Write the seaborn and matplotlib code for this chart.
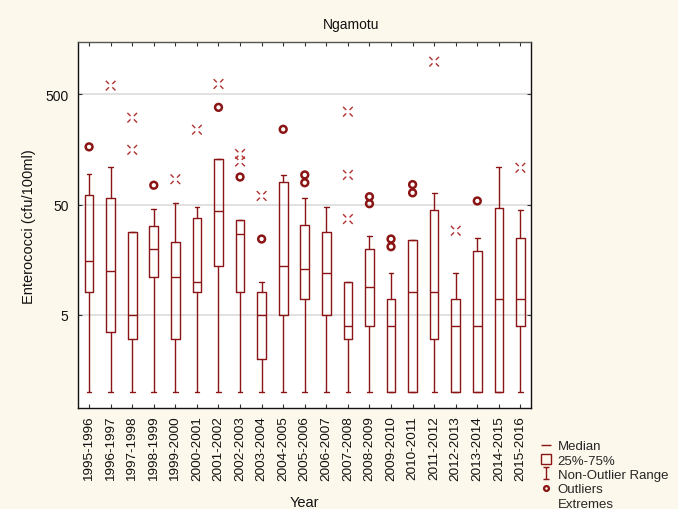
import numpy as np
import pandas as pd
import matplotlib
matplotlib.use("Agg")
import matplotlib.pyplot as plt
from matplotlib.path import Path
from matplotlib.lines import Line2D
from matplotlib.ticker import NullLocator, FixedLocator, FixedFormatter
import seaborn as sns

# ---------------- data ----------------
years = ["1995-1996", "1996-1997", "1997-1998", "1998-1999", "1999-2000",
         "2000-2001", "2001-2002", "2002-2003", "2003-2004", "2004-2005",
         "2005-2006", "2006-2007", "2007-2008", "2008-2009", "2009-2010",
         "2010-2011", "2011-2012", "2012-2013", "2013-2014", "2014-2015",
         "2015-2016"]
whisker_low = [1, 1, 1, 1, 1, 1, 1, 1, 1, 1, 1, 1, 1, 1, 1, 1, 1, 1, 1, 1, 1]
q25 = [8.0, 3.5, 3.0, 11, 3.0, 8, 14, 8, 2.0, 5, 7, 5, 3, 4, 1, 1, 3, 1, 1, 1, 4]
median = [15.4, 12.4, 5, 20, 11, 10, 44, 27, 5, 14, 13, 12, 4, 9, 4, 8, 8, 4, 4, 7, 7]
q75 = [61, 58, 28, 32, 23, 38, 129, 36, 8, 81, 33, 28, 10, 20, 7, 24, 45, 7, 19, 47, 25]
whisker_high = [95, 110, 28, 46, 52, 48, 129, 36, 10, 92, 58, 48, 10, 26, 12, 24, 64, 12, 25, 110, 45]

outlier_year = ["1995-1996", "1998-1999", "2001-2002", "2002-2003", "2003-2004",
                "2004-2005", "2005-2006", "2005-2006", "2008-2009", "2008-2009",
                "2009-2010", "2009-2010", "2010-2011", "2010-2011", "2013-2014"]
outlier_value = [167, 75, 381, 89, 24.4, 241, 93, 79, 59, 51, 24.4, 20.8, 76, 64, 54]

extreme_year = ["1996-1997", "1997-1998", "1997-1998", "1999-2000", "2000-2001",
                "2001-2002", "2002-2003", "2002-2003", "2003-2004", "2007-2008",
                "2007-2008", "2007-2008", "2011-2012", "2012-2013", "2015-2016"]
extreme_value = [600, 307, 157, 85, 239, 621, 144, 123, 60, 348, 93, 37, 989, 29, 108]

yticks = [5, 50, 500]
ytick_labels = ["5", "50", "500"]

# ---------------- style ----------------
RED = "#8b1414"
BG = "#fdf8ec"
sns.set_theme(style="white")
plt.rcParams["font.family"] = ["Liberation Sans", "DejaVu Sans"]

fig = plt.figure(figsize=(6.78, 5.10), dpi=100, facecolor=BG)
ax = fig.add_axes([0.1155, 0.1975, 0.668, 0.7175])
ax.set_facecolor("white")
ax.set_yscale("log")

stats = [dict(whislo=whisker_low[i], q1=q25[i], med=median[i], q3=q75[i],
              whishi=whisker_high[i], fliers=[], label=years[i])
         for i in range(len(years))]
lp = dict(color=RED, linewidth=1.0)
ax.bxp(stats, positions=range(len(years)), widths=0.40, capwidths=0.22,
       showfliers=False, patch_artist=False,
       boxprops=lp, whiskerprops=lp, capprops=lp,
       medianprops=dict(color=RED, linewidth=1.0), manage_ticks=False)

out_df = pd.DataFrame({"pos": [years.index(y) for y in outlier_year],
                       "value": outlier_value})
ext_df = pd.DataFrame({"pos": [years.index(y) for y in extreme_year],
                       "value": extreme_value})

sns.scatterplot(data=out_df, x="pos", y="value", marker="o", s=24,
                color=RED, edgecolor=RED, linewidth=1.8, ax=ax, zorder=4)
ax.collections[-1].set_facecolor("none")

# "x" marker with a gap in the centre (Statistica style)
r0, r1 = 0.35, 1.0
verts, codes = [], []
for sx, sy in [(1, 1), (-1, 1), (-1, -1), (1, -1)]:
    verts += [(sx * r0, sy * r0), (sx * r1, sy * r1)]
    codes += [Path.MOVETO, Path.LINETO]
xgap = Path(verts, codes)
sns.scatterplot(data=ext_df, x="pos", y="value", marker=xgap, s=48,
                color="#b03030", edgecolor="#b03030", linewidth=1.0, ax=ax, zorder=4)
ax.collections[-1].set_facecolor("none")

ax.set_xlim(-0.5, len(years) - 0.5)
ax.set_ylim(0.713, 1480)
ax.yaxis.set_major_locator(FixedLocator(yticks))
ax.yaxis.set_major_formatter(FixedFormatter(ytick_labels))
ax.yaxis.set_minor_locator(NullLocator())
ax.set_xticks(range(len(years)))
ax.set_xticklabels(years, rotation=90, fontsize=9.7)
ax.tick_params(axis="y", labelsize=10)
ax.tick_params(axis="both", which="major", direction="in", length=3, width=0.8,
               color="#333333", top=True, right=True, bottom=True, left=True,
               labelcolor="#111111")
ax.tick_params(axis="x", pad=5)
ax.tick_params(axis="y", pad=7)
ax.yaxis.grid(True, color="#dcdcdc", linewidth=1.2)
ax.xaxis.grid(False)
ax.set_axisbelow(True)
for s in ax.spines.values():
    s.set_color("#111111")
    s.set_linewidth(1.0)
ax.spines["top"].set_color("#555555")

fig.text(351 / 678, 1 - 29.3 / 510, "Ngamotu", ha="center", va="baseline",
         fontsize=10, color="#111111")
ax.set_xlabel("Year", fontsize=10.5, labelpad=11, color="#111111")
ax.set_ylabel("Enterococci (cfu/100ml)", fontsize=10.5, labelpad=7, color="#111111")

# legend (outside, bottom right)
ipath = Path([(-0.5, 1), (0.5, 1), (0, 1), (0, -1), (-0.5, -1), (0.5, -1)],
             [Path.MOVETO, Path.LINETO, Path.MOVETO, Path.LINETO, Path.MOVETO, Path.LINETO])
handles = [
    Line2D([], [], linestyle="none", marker="_", markersize=7, markeredgecolor=RED, markeredgewidth=1.0),
    Line2D([], [], linestyle="none", marker="s", markersize=7, markerfacecolor="none",
           markeredgecolor=RED, markeredgewidth=1.0),
    Line2D([], [], linestyle="none", marker=ipath, markersize=8, markeredgecolor=RED, markeredgewidth=1.0),
    Line2D([], [], linestyle="none", marker="o", markersize=3.5, markerfacecolor="none",
           markeredgecolor=RED, markeredgewidth=1.6),
    Line2D([], [], linestyle="none"),
]
labels = ["Median", "25%-75%", "Non-Outlier Range", "Outliers", "Extremes"]
fig.legend(handles, labels, loc="upper left", bbox_to_anchor=(0.797, 0.1353),
           frameon=False, fontsize=9.5, borderpad=0, borderaxespad=0,
           handlelength=0.8, handletextpad=0.5, labelspacing=0.16)

fig.savefig("out.png", dpi=100, facecolor=BG)
